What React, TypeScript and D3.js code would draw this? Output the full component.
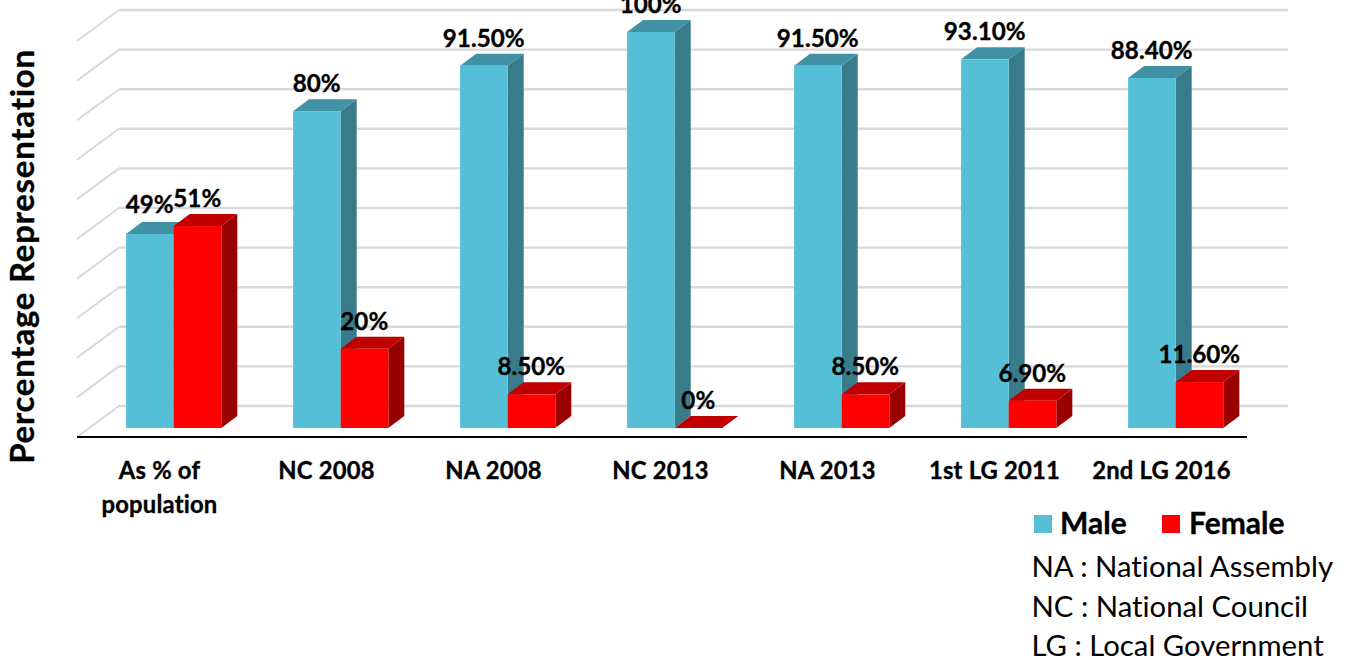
import { useEffect, useRef } from 'react'
import * as d3 from 'd3'

const categories = ['As % of population', 'NC 2008', 'NA 2008', 'NC 2013', 'NA 2013', '1st LG 2011', '2nd LG 2016']
const categoryLines = [['As % of', 'population'], ['NC 2008'], ['NA 2008'], ['NC 2013'], ['NA 2013'], ['1st LG 2011'], ['2nd LG 2016']]
const maleValues = [49, 80, 91.5, 100, 91.5, 93.1, 88.4]
const femaleValues = [51, 20, 8.5, 0, 8.5, 6.9, 11.6]
const maleLabels = ['49%', '80%', '91.50%', '100%', '91.50%', '93.10%', '88.40%']
const femaleLabels = ['51%', '20%', '8.50%', '0%', '8.50%', '6.90%', '11.60%']
const gridTicks = [0, 10, 20, 30, 40, 50, 60, 70, 80, 90, 100]
const notes = ['NA : National Assembly', 'NC : National Council', 'LG : Local Government']

const FONT = 'Lato, "Open Sans", sans-serif'
const maleColors = { front: '#54bfd6', top: '#4092a4', side: '#387b8a' }
const femaleColors = { front: '#ff0000', top: '#c00000', side: '#990000' }

export default function App() {
  const ref = useRef<SVGSVGElement>(null)

  useEffect(() => {
    if (!ref.current) return
    const svg = d3.select(ref.current)
    svg.selectAll('*').remove()

    const x = d3.scaleBand<string>().domain(categories).range([90.5, 1259.5]).paddingInner(0).paddingOuter(0)
    const y = d3.scaleLinear().domain([0, 100]).range([428, 32])
    const barW = 47.6
    const depthX = 16
    const depthY = 12

    // back wall + side wall gridlines
    const backY = (v: number) => y(v) - 22
    gridTicks.forEach(t => {
      svg.append('line')
        .attr('x1', 119).attr('x2', 1288)
        .attr('y1', backY(t)).attr('y2', backY(t))
        .attr('stroke', '#d9d9d9').attr('stroke-width', 2.4)
      svg.append('line')
        .attr('x1', 77).attr('x2', 119)
        .attr('y1', backY(t) + 31).attr('y2', backY(t))
        .attr('stroke', '#d9d9d9').attr('stroke-width', 2)
    })

    const drawBar = (x0: number, v: number, c: typeof maleColors) => {
      const yt = y(v)
      const yb = y(0)
      const x1 = x0 + barW
      const g = svg.append('g')
      if (v > 0) {
        g.append('path')
          .attr('d', `M${x1},${yt}L${x1 + depthX},${yt - depthY}L${x1 + depthX},${yb - depthY}L${x1},${yb}Z`)
          .attr('fill', c.side)
      }
      g.append('path')
        .attr('d', `M${x0},${yt}L${x0 + depthX},${yt - depthY}L${x1 + depthX},${yt - depthY}L${x1},${yt}Z`)
        .attr('fill', c.top)
      if (v > 0) {
        g.append('rect')
          .attr('x', x0).attr('y', yt)
          .attr('width', barW).attr('height', yb - yt)
          .attr('fill', c.front)
      }
    }

    categories.forEach((cat, i) => {
      const center = (x(cat) as number) + x.bandwidth() / 2 - 0.3
      drawBar(center - barW, maleValues[i], maleColors)
      drawBar(center, femaleValues[i], femaleColors)
    })

    // x axis line
    svg.append('line')
      .attr('x1', 77).attr('x2', 1247)
      .attr('y1', 437).attr('y2', 437)
      .attr('stroke', '#000').attr('stroke-width', 2.2)

    // bold text helper, thin stroke because Lato bold is lighter than the source font
    const boldText = (px: number, py: number, txt: string, size: number, anchor = 'middle') =>
      svg.append('text')
        .attr('x', px).attr('y', py)
        .attr('text-anchor', anchor)
        .style('font-family', FONT)
        .style('font-size', `${size}px`)
        .style('font-weight', '700')
        .style('font-variant-ligatures', 'none')
        .style('fill', '#000')
        .style('stroke', '#000')
        .style('stroke-width', 0.35)
        .text(txt)

    // data labels
    categories.forEach((cat, i) => {
      const center = (x(cat) as number) + x.bandwidth() / 2 - 0.5
      // first male label sits a bit higher than the others
      boldText(center - barW / 2, y(maleValues[i]) - (i === 0 ? 21 : 19), maleLabels[i], 24.2)
      boldText(center + barW / 2, y(femaleValues[i]) - 19, femaleLabels[i], 24.2)
    })

    // category labels
    categories.forEach((cat, i) => {
      const center = (x(cat) as number) + x.bandwidth() / 2 - 14.5
      categoryLines[i].forEach((line, j) => {
        boldText(center, 478.5 + j * 34, line, 23.8).style('letter-spacing', '0.2px')
      })
    })

    // y title
    boldText(0, 0, 'Percentage Representation', 33)
      .attr('transform', 'translate(34,256.5) rotate(-90)')
      .style('letter-spacing', '0.75px')

    // legend
    const legend = [
      { name: 'Male', color: maleColors.front, sx: 1034, tx: 1060 },
      { name: 'Female', color: femaleColors.front, sx: 1162, tx: 1189 },
    ]
    legend.forEach(l => {
      svg.append('rect')
        .attr('x', l.sx).attr('y', 515)
        .attr('width', 18).attr('height', 18)
        .attr('fill', l.color)
      boldText(l.tx, 533.5, l.name, 30, 'start')
    })

    notes.forEach((n, i) => {
      svg.append('text')
        .attr('x', 1031.5).attr('y', 577 + i * 39.5)
        .style('font-family', FONT)
        .style('font-size', '29.3px')
        .style('font-variant-ligatures', 'none')
        .text(n)
    })
  }, [])

  return (
    <svg
      ref={ref}
      width={1352}
      height={660}
      viewBox="0 0 1352 660"
      style={{ position: 'absolute', left: 0, top: 0, background: '#fff' }}
    />
  )
}
